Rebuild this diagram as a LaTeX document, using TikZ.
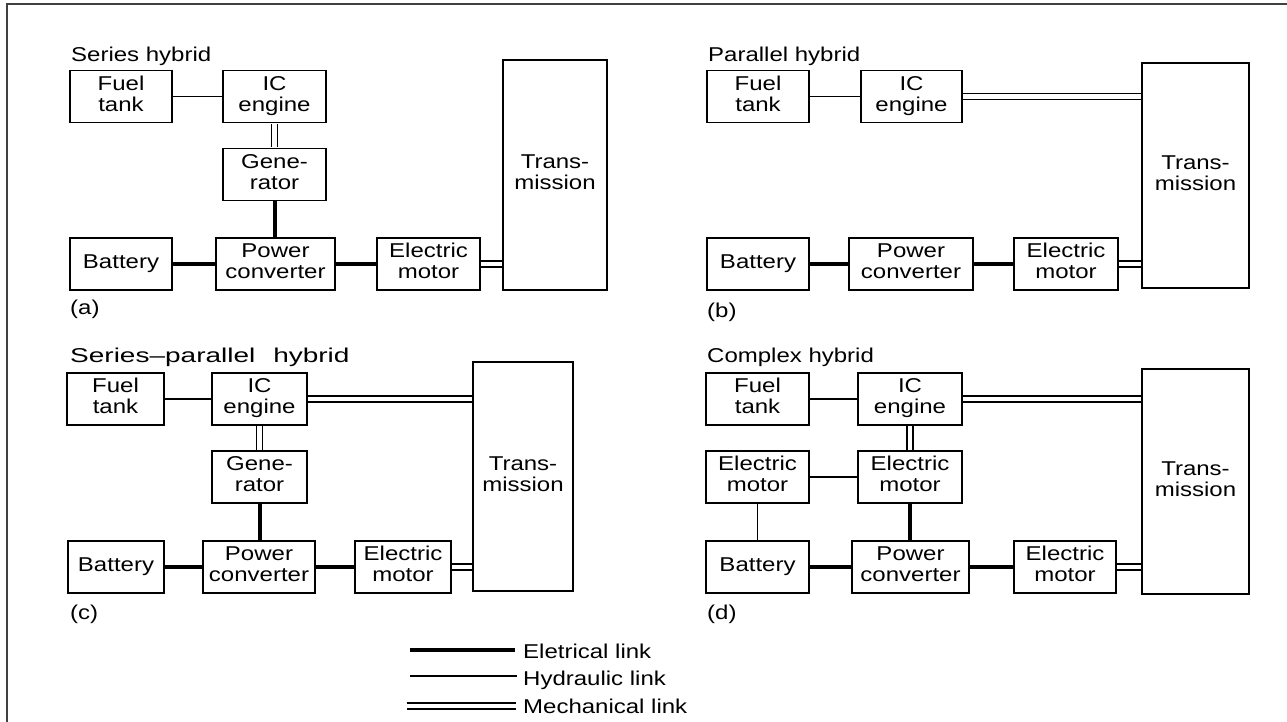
\documentclass[tikz,border=0pt]{standalone}
\usepackage{fontspec}
\setmainfont{Liberation Sans}
\usepackage{graphicx}
\usepackage{tikz}
\usetikzlibrary{calc}
\newcommand{\wtext}[1]{\scalebox{1.2}[1]{\begin{tabular}{@{}c@{}}#1\end{tabular}}}
\newcommand{\wtitle}[2][1.2]{\scalebox{#1}[1]{#2}}

\begin{document}
\begin{tikzpicture}[x=1pt, y=-1pt,
  box/.style={draw, line width=1.2pt, inner sep=0pt,
    minimum height=52pt, font=\fontsize{20}{21}\selectfont},
  ttl/.style={anchor=base west, inner sep=0pt, font=\fontsize{20}{21}\selectfont},
  elec/.style={line width=4pt},
  hyd/.style={line width=1.2pt},
  mech/.style={double, double distance=4.8pt, line width=1.2pt,
    shorten <=0.6pt, shorten >=0.6pt}]
  \useasboundingbox (0,0) rectangle (1287,722);
  \draw[line width=1.5pt, black!75] (1287,4) -- (7,4) -- (7,722);

  \node[ttl] (titleA) at (71,62) {\wtitle{Series hybrid}};
  \node[box, minimum width=102pt] (fuelA) at (121,96.5) {\wtext{Fuel\\tank}};
  \node[box, minimum width=103pt] (icA) at (274.5,96.5) {\wtext{IC\\engine}};
  \node[box, minimum width=103pt] (genA) at (274.5,174.5) {\wtext{Gene-\\rator}};
  \node[box, minimum width=102pt] (batA) at (121,264) {\wtext{Battery}};
  \node[box, minimum width=119pt] (pcA) at (275.5,264) {\wtext{Power\\converter}};
  \node[box, minimum width=103pt] (emA) at (428.5,264) {\wtext{Electric\\motor}};
  \node[box, minimum width=104pt, minimum height=230pt] (trA) at (555,175) {\wtext{Trans-\\mission}};
  \node[ttl] (labA) at (70,314) {\wtitle{(a)}};
  \draw[hyd] (fuelA) -- (icA);
  \draw[mech] (icA) -- (genA);
  \draw[elec] (genA.south) -- (genA.south |- pcA.north);
  \draw[elec] (batA) -- (pcA);
  \draw[elec] (pcA) -- (emA);
  \draw[mech] (emA.east) -- (emA.east -| trA.west);

  \node[ttl] (titleB) at (708,62) {\wtitle{Parallel hybrid}};
  \node[box, minimum width=102pt] (fuelB) at (758,96.5) {\wtext{Fuel\\tank}};
  \node[box, minimum width=101pt] (icB) at (911.5,96.5) {\wtext{IC\\engine}};
  \node[box, minimum width=102pt] (batB) at (758,264) {\wtext{Battery}};
  \node[box, minimum width=124pt] (pcB) at (911,264) {\wtext{Power\\converter}};
  \node[box, minimum width=104pt] (emB) at (1066,264) {\wtext{Electric\\motor}};
  \node[box, minimum width=107pt, minimum height=225pt] (trB) at (1195.5,175.5) {\wtext{Trans-\\mission}};
  \node[ttl] (labB) at (707,317) {\wtitle{(b)}};
  \draw[hyd] (fuelB) -- (icB);
  \draw[mech] (icB.east) -- (icB.east -| trB.west);
  \draw[elec] (batB) -- (pcB);
  \draw[elec] (pcB) -- (emB);
  \draw[mech] (emB.east) -- (emB.east -| trB.west);

  \node[ttl] (titleC) at (70,362) {\wtitle[1.4]{Series--parallel\hspace{0.64em}hybrid}};
  \node[box, minimum width=97pt] (fuelC) at (115.5,399) {\wtext{Fuel\\tank}};
  \node[box, minimum width=95pt] (icC) at (259.5,399) {\wtext{IC\\engine}};
  \node[box, minimum width=95pt] (genC) at (259.5,477) {\wtext{Gene-\\rator}};
  \node[box, minimum width=96pt] (batC) at (116,567) {\wtext{Battery}};
  \node[box, minimum width=112pt] (pcC) at (259,567) {\wtext{Power\\converter}};
  \node[box, minimum width=96pt] (emC) at (403,567) {\wtext{Electric\\motor}};
  \node[box, minimum width=100pt, minimum height=229pt] (trC) at (523,476.5) {\wtext{Trans-\\mission}};
  \node[ttl] (labC) at (70,619) {\wtitle{(c)}};
  \draw[hyd] (fuelC) -- (icC);
  \draw[mech] (icC.east) -- (icC.east -| trC.west);
  \draw[mech] (icC) -- (genC);
  \draw[elec] (genC.south) -- (genC.south |- pcC.north);
  \draw[elec] (batC) -- (pcC);
  \draw[elec] (pcC) -- (emC);
  \draw[mech] (emC.east) -- (emC.east -| trC.west);

  \node[ttl] (titleD) at (707,362) {\wtitle{Complex hybrid}};
  \node[box, minimum width=103pt] (fuelD) at (757.5,399) {\wtext{Fuel\\tank}};
  \node[box, minimum width=104pt] (icD) at (910,399) {\wtext{IC\\engine}};
  \node[box, minimum width=103pt] (emL) at (757.5,477) {\wtext{Electric\\motor}};
  \node[box, minimum width=104pt] (emM) at (910,477) {\wtext{Electric\\motor}};
  \node[box, minimum width=103pt] (batD) at (757.5,567) {\wtext{Battery}};
  \node[box, minimum width=117pt] (pcD) at (910.5,567) {\wtext{Power\\converter}};
  \node[box, minimum width=102pt] (emR) at (1065,567) {\wtext{Electric\\motor}};
  \node[box, minimum width=107pt, minimum height=225pt] (trD) at (1195.5,481.5) {\wtext{Trans-\\mission}};
  \node[ttl] (labD) at (707,619) {\wtitle{(d)}};
  \draw[hyd] (fuelD) -- (icD);
  \draw[mech] (icD.east) -- (icD.east -| trD.west);
  \draw[mech] (icD) -- (emM);
  \draw[hyd] (emL) -- (emM);
  \draw[hyd] (emL) -- (batD);
  \draw[elec] (emM.south) -- (emM.south |- pcD.north);
  \draw[elec] (batD) -- (pcD);
  \draw[elec] (pcD) -- (emR);
  \draw[mech] (emR.east) -- (emR.east -| trD.west);

  \coordinate (elecL) at (410,650);
  \coordinate (hydL) at (410,676);
  \coordinate (mechL) at (406,706);
  \node[ttl] (elecT) at (523,658) {\wtitle{Eletrical link}};
  \node[ttl] (hydT) at (523,685) {\wtitle{Hydraulic link}};
  \node[ttl] (mechT) at (523,713) {\wtitle{Mechanical link}};
  \draw[elec] (elecL) -- ($(elecL -| elecT.west)+(-8,0)$);
  \draw[hyd] (hydL) -- ($(hydL -| hydT.west)+(-6,0)$);
  \draw[mech] (mechL) -- ($(mechL -| mechT.west)+(-6,0)$);
\end{tikzpicture}
\end{document}
